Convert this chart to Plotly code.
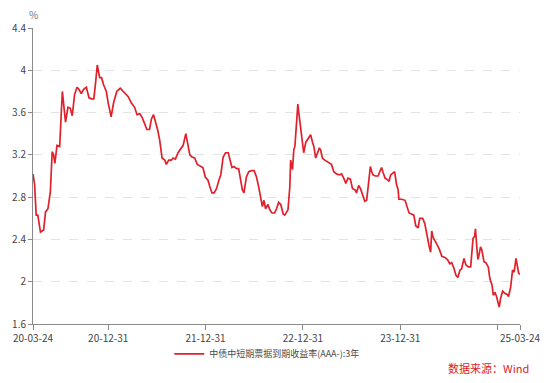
import plotly.graph_objects as go

series_name = "中债中短期票据到期收益率(AAA-):3年"
source_text = "数据来源：Wind"

dates = [
    "2020-03-24", "2020-03-30", "2020-04-05", "2020-04-11", "2020-04-21", "2020-05-03", "2020-05-10",
    "2020-05-19", "2020-05-28", "2020-06-04", "2020-06-09", "2020-06-14", "2020-06-22", "2020-07-02",
    "2020-07-12", "2020-07-17", "2020-07-24", "2020-08-02", "2020-08-11", "2020-08-18", "2020-08-27",
    "2020-09-05", "2020-09-12", "2020-09-21", "2020-09-30", "2020-10-10", "2020-10-20", "2020-10-30",
    "2020-11-07", "2020-11-14", "2020-11-20", "2020-11-29", "2020-12-06", "2020-12-14", "2020-12-24",
    "2020-12-31", "2021-01-05", "2021-01-11", "2021-01-20", "2021-01-27", "2021-02-01", "2021-02-14",
    "2021-02-24", "2021-03-06", "2021-03-16", "2021-03-28", "2021-04-09", "2021-04-18", "2021-04-28",
    "2021-05-08", "2021-05-17", "2021-05-25", "2021-06-04", "2021-06-11", "2021-06-19", "2021-06-29",
    "2021-07-05", "2021-07-12", "2021-07-21", "2021-07-31", "2021-08-06", "2021-08-15", "2021-08-25",
    "2021-08-31", "2021-09-09", "2021-09-19", "2021-09-29", "2021-10-08", "2021-10-18", "2021-10-26",
    "2021-11-02", "2021-11-10", "2021-11-20", "2021-11-30", "2021-12-09", "2021-12-21", "2021-12-30",
    "2022-01-09", "2022-01-16", "2022-01-24", "2022-02-01", "2022-02-10", "2022-02-19", "2022-02-26",
    "2022-03-07", "2022-03-16", "2022-03-26", "2022-04-02", "2022-04-09", "2022-04-17", "2022-04-26",
    "2022-05-04", "2022-05-12", "2022-05-18", "2022-05-24", "2022-06-02", "2022-06-11", "2022-06-21",
    "2022-07-01", "2022-07-10", "2022-07-18", "2022-07-26", "2022-08-01", "2022-08-07", "2022-08-13",
    "2022-08-22", "2022-08-29", "2022-09-06", "2022-09-16", "2022-09-23", "2022-10-01", "2022-10-09",
    "2022-10-18", "2022-10-24", "2022-10-30", "2022-11-05", "2022-11-12", "2022-11-15", "2022-11-22",
    "2022-11-27", "2022-12-01", "2022-12-07", "2022-12-12", "2022-12-16", "2022-12-23", "2022-12-29",
    "2023-01-03", "2023-01-11", "2023-01-19", "2023-01-29", "2023-02-05", "2023-02-10", "2023-02-17",
    "2023-02-22", "2023-03-02", "2023-03-07", "2023-03-14", "2023-03-23", "2023-03-29", "2023-04-08",
    "2023-04-17", "2023-04-26", "2023-05-06", "2023-05-16", "2023-05-25", "2023-06-02", "2023-06-10",
    "2023-06-18", "2023-06-27", "2023-07-05", "2023-07-14", "2023-07-20", "2023-07-28", "2023-08-04",
    "2023-08-12", "2023-08-20", "2023-08-27", "2023-09-03", "2023-09-10", "2023-09-15", "2023-09-20",
    "2023-09-29", "2023-10-09", "2023-10-15", "2023-10-22", "2023-10-28", "2023-11-04", "2023-11-11",
    "2023-11-19", "2023-11-25", "2023-12-04", "2023-12-10", "2023-12-17", "2023-12-23", "2023-12-26",
    "2024-01-05", "2024-01-18", "2024-01-26", "2024-02-02", "2024-02-11", "2024-02-20", "2024-02-27",
    "2024-03-07", "2024-03-13", "2024-03-24", "2024-04-01", "2024-04-10", "2024-04-17", "2024-04-23",
    "2024-04-27", "2024-05-02", "2024-05-09", "2024-05-15", "2024-05-25", "2024-06-04", "2024-06-15",
    "2024-06-25", "2024-07-04", "2024-07-11", "2024-07-19", "2024-07-27", "2024-08-03", "2024-08-11",
    "2024-08-17", "2024-08-26", "2024-09-02", "2024-09-11", "2024-09-20", "2024-09-25", "2024-09-29",
    "2024-10-05", "2024-10-08", "2024-10-13", "2024-10-17", "2024-10-22", "2024-10-27", "2024-11-01",
    "2024-11-09", "2024-11-16", "2024-11-25", "2024-12-01", "2024-12-09", "2024-12-14", "2024-12-20",
    "2024-12-26", "2025-01-02", "2025-01-05", "2025-01-10", "2025-01-18", "2025-01-26", "2025-02-04",
    "2025-02-09", "2025-02-17", "2025-02-24", "2025-03-02", "2025-03-09", "2025-03-14", "2025-03-19",
    "2025-03-24",
]

yields = [
    3.02, 2.92, 2.63, 2.63, 2.47, 2.49, 2.66,
    2.69, 2.85, 3.23, 3.20, 3.12, 3.29, 3.28,
    3.80, 3.70, 3.51, 3.65, 3.64, 3.57, 3.77,
    3.84, 3.82, 3.78, 3.82, 3.84, 3.74, 3.73,
    3.73, 3.89, 4.05, 3.93, 3.93, 3.86, 3.80,
    3.69, 3.64, 3.56, 3.69, 3.77, 3.80, 3.83,
    3.80, 3.77, 3.75, 3.69, 3.65, 3.58, 3.59,
    3.55, 3.48, 3.44, 3.44, 3.54, 3.58, 3.50,
    3.43, 3.34, 3.17, 3.15, 3.11, 3.15, 3.15,
    3.17, 3.16, 3.22, 3.26, 3.29, 3.40, 3.29,
    3.20, 3.18, 3.17, 3.11, 3.10, 3.08, 2.99,
    2.96, 2.90, 2.84, 2.84, 2.88, 2.96, 3.01,
    3.18, 3.22, 3.22, 3.14, 3.08, 3.09, 3.07,
    3.07, 2.96, 2.87, 2.84, 2.99, 3.04, 3.05,
    3.05, 2.99, 2.90, 2.81, 2.71, 2.77, 2.69,
    2.73, 2.68, 2.65, 2.65, 2.69, 2.75, 2.73,
    2.64, 2.63, 2.65, 2.68, 2.90, 3.15, 3.06,
    3.25, 3.28, 3.51, 3.68, 3.59, 3.44, 3.34,
    3.22, 3.32, 3.35, 3.39, 3.32, 3.28, 3.17,
    3.20, 3.26, 3.25, 3.17, 3.15, 3.14, 3.13,
    3.11, 3.04, 3.02, 3.01, 3.02, 2.98, 2.93,
    2.98, 2.97, 2.88, 2.87, 2.84, 2.91, 2.88,
    2.81, 2.76, 2.77, 2.93, 3.09, 3.04, 3.01,
    3.00, 3.00, 3.04, 3.08, 3.03, 2.98, 2.97,
    2.95, 3.01, 3.03, 3.04, 2.92, 2.87, 2.78,
    2.78, 2.77, 2.71, 2.65, 2.64, 2.63, 2.53,
    2.51, 2.60, 2.60, 2.55, 2.42, 2.34, 2.28,
    2.48, 2.42, 2.38, 2.36, 2.31, 2.24, 2.23,
    2.21, 2.17, 2.18, 2.13, 2.06, 2.04, 2.11,
    2.12, 2.22, 2.16, 2.14, 2.14, 2.30, 2.41,
    2.43, 2.50, 2.33, 2.21, 2.26, 2.33, 2.30,
    2.19, 2.18, 2.14, 2.03, 1.97, 1.87, 1.90,
    1.86, 1.78, 1.76, 1.84, 1.91, 1.89, 1.88,
    1.86, 1.95, 2.11, 2.09, 2.22, 2.16, 2.08,
    2.07,
]

x_tick_vals = ["2020-03-24", "2020-12-31", "2021-12-31", "2022-12-31", "2023-12-31", "2024-12-31", "2025-03-24"]
x_tick_text = ["20-03-24", "20-12-31", "21-12-31", "22-12-31", "23-12-31", "", "25-03-24"]
y_tick_vals = [1.6, 2.0, 2.4, 2.8, 3.2, 3.6, 4.0, 4.4]
y_tick_text = ["1.6", "2", "2.4", "2.8", "3.2", "3.6", "4", "4.4"]

FONT = "Noto Sans CJK SC"
RED = "#e0202b"
AXIS = "#8a8a8a"
TXT = "#555555"

fig = go.Figure()
fig.add_trace(go.Scatter(
    x=dates, y=yields, mode="lines", name=series_name,
    line=dict(color=RED, width=1.7),
))

# The page body has an 8px default margin; the figure is sized so the
# visible result fills the 550x383 window like the reference.
fig.update_layout(
    width=542, height=375,
    margin=dict(l=25, r=30, t=20, b=59, autoexpand=False),
    paper_bgcolor="white", plot_bgcolor="white",
    font=dict(family=FONT, size=10, color=TXT),
    showlegend=True,
    legend=dict(
        orientation="h", x=0.48, xanchor="center", y=-0.101, yanchor="middle",
        font=dict(family=FONT, size=9, color="#4a4a4a"),
        itemwidth=30, bgcolor="rgba(0,0,0,0)",
    ),
    annotations=[
        dict(text="%", xref="paper", yref="paper", x=0, y=1.047, xanchor="center",
             yanchor="middle", showarrow=False, font=dict(family=FONT, size=10, color="#777777")),
        dict(text=source_text, xref="paper", yref="paper", x=1.0226, y=-0.149, xanchor="right",
             yanchor="middle", showarrow=False, font=dict(family=FONT, size=11, color=RED)),
    ],
)

fig.update_xaxes(
    type="date", range=["2020-03-24", "2025-03-24"],
    tickmode="array", tickvals=x_tick_vals, ticktext=x_tick_text,
    showline=True, linecolor=AXIS, linewidth=1,
    ticks="outside", ticklen=5, tickcolor=AXIS, tickwidth=1,
    showgrid=False, zeroline=False, automargin=False,
    tickfont=dict(family=FONT, size=10, color="#444444"),
)
fig.update_yaxes(
    range=[1.6, 4.4], tickmode="array", tickvals=y_tick_vals, ticktext=y_tick_text,
    showline=True, linecolor=AXIS, linewidth=1,
    ticks="outside", ticklen=4, tickcolor=AXIS, tickwidth=1,
    showgrid=True, gridcolor="#e3e3e3", griddash="dash", gridwidth=1,
    zeroline=False, automargin=False,
    tickfont=dict(family=FONT, size=10, color="#444444"),
)

fig.write_html("out.html")
